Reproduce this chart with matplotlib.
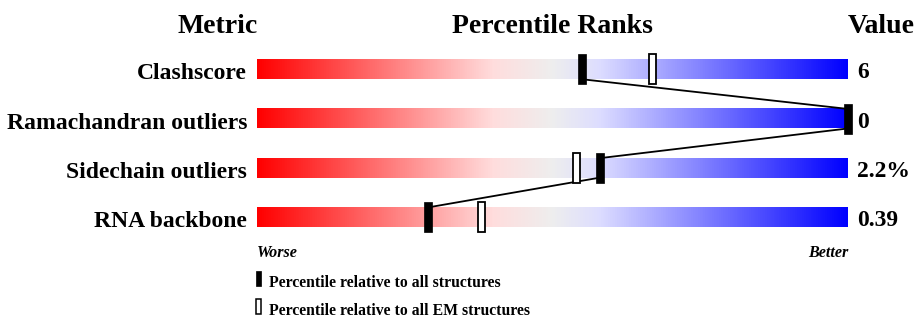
import numpy as np
import matplotlib
matplotlib.use("Agg")
import matplotlib.pyplot as plt
from matplotlib.colors import LinearSegmentedColormap
from matplotlib.patches import Rectangle

# data
metrics = ["Clashscore", "Ramachandran outliers", "Sidechain outliers", "RNA backbone"]
values = ["6", "0", "2.2%", "0.39"]
pct_all = [55, 100, 58, 29]   # percentile relative to all structures
pct_em = [67, None, 54, 38]   # percentile relative to all EM structures

plt.rcParams["font.family"] = ["Liberation Serif", "DejaVu Serif"]
plt.rcParams["font.weight"] = "bold"

W, H = 919, 323
fig = plt.figure(figsize=(W / 100, H / 100), dpi=100)
ax = fig.add_axes([0, 0, 1, 1])
ax.axis("off")

# pixel layout -> data units (x: percentile, y: row index)
x0_px, x1_px = 257, 848
ppu = (x1_px - x0_px) / 100.0
row0_px, row_step = 69.5, 49.2
def px2x(p):
    return (p - x0_px) / ppu
def px2y(p):
    return (p - row0_px) / row_step

cmap = LinearSegmentedColormap.from_list(
    "slider",
    [(0.0, "#ff0000"), (0.40, "#ffdddd"), (0.50, "#eeeeee"),
     (0.58, "#ddddff"), (1.0, "#0000ff")])
grad = np.linspace(0, 1, 512).reshape(1, -1)

bar_h = 19.5 / row_step
mark_h = 30 / row_step
blk_w = 8 / ppu
em_w = 7 / ppu

for i, name in enumerate(metrics):
    ax.imshow(grad, cmap=cmap, aspect="auto",
              extent=[0, 100, i + bar_h / 2, i - bar_h / 2], zorder=1)
    ax.text(px2x(247), i + 10 / row_step, name, ha="right", va="baseline",
            fontsize=17, fontweight="bold")
    ax.text(px2x(857), i + 9 / row_step, values[i], ha="left", va="baseline",
            fontsize=17, fontweight="bold")
    if pct_em[i] is not None:
        ax.add_patch(Rectangle((pct_em[i] - em_w / 2, i - mark_h / 2), em_w, mark_h,
                               facecolor="white", edgecolor="black", lw=1.3, zorder=3))
    ax.add_patch(Rectangle((pct_all[i] - blk_w / 2, i - mark_h / 2), blk_w, mark_h,
                           facecolor="black", edgecolor="black", lw=0.5, zorder=4))

# connecting line between black markers
for i in range(len(metrics) - 1):
    ax.plot([pct_all[i], pct_all[i + 1]], [i + bar_h / 2, i + 1 - bar_h / 2],
            color="black", lw=1.3, zorder=2)

# headers
ax.text(px2x(218), px2y(33), "Metric", ha="center", va="baseline", fontsize=20, fontweight="bold")
ax.text(50, px2y(33), "Percentile Ranks", ha="center", va="baseline", fontsize=20, fontweight="bold")
ax.text(px2x(915), px2y(33), "Value", ha="right", va="baseline", fontsize=20, fontweight="bold")

ax.text(0, px2y(257), "Worse", ha="left", va="baseline", fontsize=11.6, style="italic", fontweight="bold")
ax.text(100, px2y(257), "Better", ha="right", va="baseline", fontsize=11.6, style="italic", fontweight="bold")

# legend
lg_w = 5 / ppu
lg_h = 15 / row_step
ax.add_patch(Rectangle((px2x(256), px2y(271)), lg_w, lg_h, facecolor="black", edgecolor="black", lw=0.5))
ax.text(px2x(269), px2y(287), "Percentile relative to all structures", ha="left", va="baseline",
        fontsize=11.3, fontweight="bold")
ax.add_patch(Rectangle((px2x(256), px2y(299)), lg_w, lg_h, facecolor="white", edgecolor="black", lw=1.1))
ax.text(px2x(269), px2y(315), "Percentile relative to all EM structures", ha="left", va="baseline",
        fontsize=11.3, fontweight="bold")

ax.set_xlim(px2x(0), px2x(W))
ax.set_ylim(px2y(H), px2y(0))

fig.savefig("out.png", dpi=100)
